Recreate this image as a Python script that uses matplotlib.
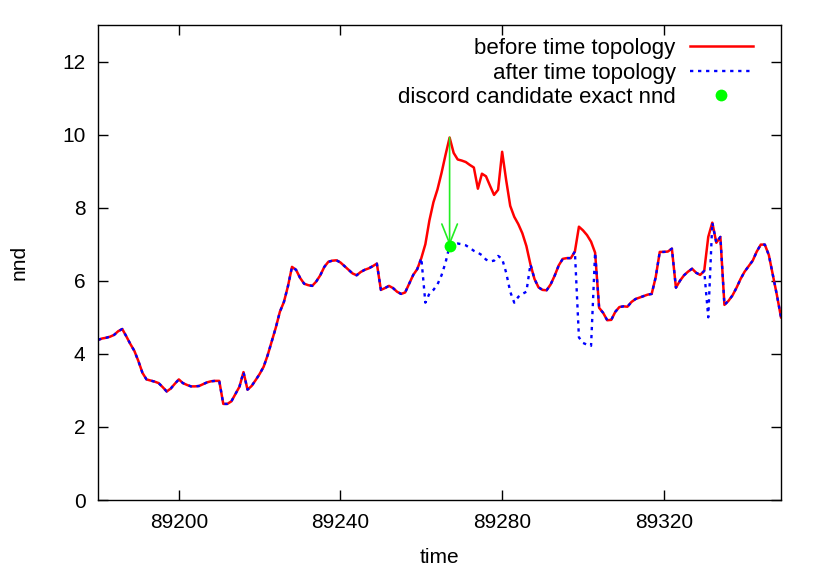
import matplotlib
matplotlib.use("Agg")
import matplotlib.pyplot as plt
import numpy as np

plt.rcParams['font.family'] = ['Liberation Sans', 'DejaVu Sans']

time = list(range(89180, 89350))

before_nnd = [
    4.38, 4.42, 4.44, 4.47, 4.52, 4.62, 4.68, 4.48, 4.27, 4.08,   # 89180-89189
    3.80, 3.48, 3.30, 3.27, 3.24, 3.20, 3.09, 2.97, 3.05, 3.18,   # 89190-89199
    3.30, 3.20, 3.15, 3.11, 3.11, 3.12, 3.17, 3.22, 3.25, 3.26,   # 89200-89209
    3.26, 2.63, 2.63, 2.70, 2.90, 3.10, 3.50, 3.02, 3.12, 3.28,   # 89210-89219
    3.45, 3.65, 3.97, 4.35, 4.72, 5.15, 5.42, 5.85, 6.38, 6.30,   # 89220-89229
    6.08, 5.92, 5.88, 5.86, 5.98, 6.15, 6.38, 6.52, 6.55, 6.56,   # 89230-89239
    6.50, 6.40, 6.30, 6.20, 6.15, 6.24, 6.30, 6.34, 6.40, 6.47,   # 89240-89249
    5.75, 5.80, 5.86, 5.80, 5.70, 5.64, 5.68, 5.92, 6.16, 6.32,   # 89250-89259
    6.62, 7.00, 7.65, 8.15, 8.50, 8.95, 9.45, 9.92, 9.50, 9.32,   # 89260-89269
    9.29, 9.25, 9.17, 9.10, 8.52, 8.93, 8.86, 8.60, 8.35, 8.49,   # 89270-89279
    9.53, 8.75, 8.05, 7.75, 7.55, 7.30, 6.95, 6.45, 6.05, 5.82,   # 89280-89289
    5.75, 5.74, 5.90, 6.14, 6.42, 6.60, 6.62, 6.62, 6.80, 7.48,   # 89290-89299
    7.38, 7.25, 7.07, 6.77, 5.26, 5.12, 4.92, 4.93, 5.15, 5.28,   # 89300-89309
    5.30, 5.29, 5.42, 5.50, 5.54, 5.58, 5.62, 5.64, 6.10, 6.79,   # 89310-89319
    6.79, 6.80, 6.88, 5.81, 6.00, 6.15, 6.25, 6.33, 6.22, 6.16,   # 89320-89329
    6.27, 7.20, 7.59, 7.04, 7.20, 5.34, 5.45, 5.60, 5.81, 6.05,   # 89330-89339
    6.25, 6.40, 6.55, 6.80, 6.99, 6.99, 6.70, 6.15, 5.60, 5.00,   # 89340-89349
]

after_nnd = [
    4.38, 4.42, 4.44, 4.47, 4.52, 4.62, 4.68, 4.48, 4.27, 4.08,   # 89180-89189
    3.80, 3.48, 3.30, 3.27, 3.24, 3.20, 3.09, 2.97, 3.05, 3.18,   # 89190-89199
    3.30, 3.20, 3.15, 3.11, 3.11, 3.12, 3.17, 3.22, 3.25, 3.26,   # 89200-89209
    3.26, 2.63, 2.63, 2.70, 2.90, 3.10, 3.50, 3.02, 3.12, 3.28,   # 89210-89219
    3.45, 3.65, 3.97, 4.35, 4.72, 5.15, 5.42, 5.85, 6.38, 6.30,   # 89220-89229
    6.08, 5.92, 5.88, 5.86, 5.98, 6.15, 6.38, 6.52, 6.55, 6.56,   # 89230-89239
    6.50, 6.40, 6.30, 6.20, 6.15, 6.24, 6.30, 6.34, 6.40, 6.47,   # 89240-89249
    5.75, 5.80, 5.86, 5.80, 5.70, 5.64, 5.68, 5.92, 6.16, 6.32,   # 89250-89259
    6.62, 5.40, 5.65, 5.75, 5.90, 6.15, 6.50, 6.96, 7.00, 7.02,   # 89260-89269
    7.00, 6.97, 6.90, 6.82, 6.77, 6.70, 6.58, 6.53, 6.55, 6.68,   # 89270-89279
    6.60, 6.22, 5.70, 5.40, 5.56, 5.64, 5.70, 6.45, 6.05, 5.82,   # 89280-89289
    5.75, 5.74, 5.90, 6.14, 6.42, 6.60, 6.62, 6.62, 6.80, 4.45,   # 89290-89299
    4.30, 4.25, 4.22, 6.77, 5.26, 5.12, 4.92, 4.93, 5.15, 5.28,   # 89300-89309
    5.30, 5.29, 5.42, 5.50, 5.54, 5.58, 5.62, 5.64, 6.10, 6.79,   # 89310-89319
    6.79, 6.80, 6.88, 5.81, 6.00, 6.15, 6.25, 6.33, 6.22, 6.16,   # 89320-89329
    6.27, 5.00, 7.59, 7.04, 7.20, 5.34, 5.45, 5.60, 5.81, 6.05,   # 89330-89339
    6.25, 6.40, 6.55, 6.80, 6.99, 6.99, 6.70, 6.15, 5.60, 5.00,   # 89340-89349
]

candidate_time = 89267
candidate_before = 9.92
candidate_exact = 6.96

x_ticks = [89200, 89240, 89280, 89320]
y_ticks = [0, 2, 4, 6, 8, 10, 12]

fig = plt.figure(figsize=(8.22, 5.74), dpi=100)
ax = fig.add_axes([98/822, 74/574, (781-98)/822, (500-25)/574])

ax.plot(time, before_nnd, color='#ff0000', lw=1.8, label='before time topology')
ax.plot(time, after_nnd, color='#0000ff', lw=1.7, linestyle=(0, (1.4, 2.0)),
        label='after time topology')
ax.annotate('', xy=(candidate_time, candidate_exact), xytext=(candidate_time, candidate_before),
            arrowprops=dict(arrowstyle='->, head_length=0.7, head_width=0.28',
                            color='#22ee22', lw=1.2,
                            mutation_scale=20, shrinkA=0, shrinkB=0))
ax.plot([candidate_time], [candidate_exact], 'o', color='#00ff00', ms=8.5, mec='none',
        label='discord candidate exact nnd', zorder=5)

ax.set_xlim(89180, 89349)
ax.set_ylim(0, 13)
ax.set_xticks(x_ticks)
ax.set_yticks(y_ticks)
ax.tick_params(direction='in', length=7, width=1, labelsize=15, top=True, right=True, pad=9)
for s in ax.spines.values():
    s.set_linewidth(1.0)

ax.set_xlabel('time', fontsize=15, labelpad=12)
ax.set_ylabel('nnd', fontsize=15, labelpad=24)

leg = ax.legend(loc='upper right', bbox_to_anchor=(753/822, 1 - 38/574),
                bbox_transform=fig.transFigure, frameon=False, markerfirst=False,
                fontsize=16, handlelength=2.85, handletextpad=0.63, labelspacing=0.16,
                borderpad=0, borderaxespad=0)

fig.savefig('out.png', dpi=100)
